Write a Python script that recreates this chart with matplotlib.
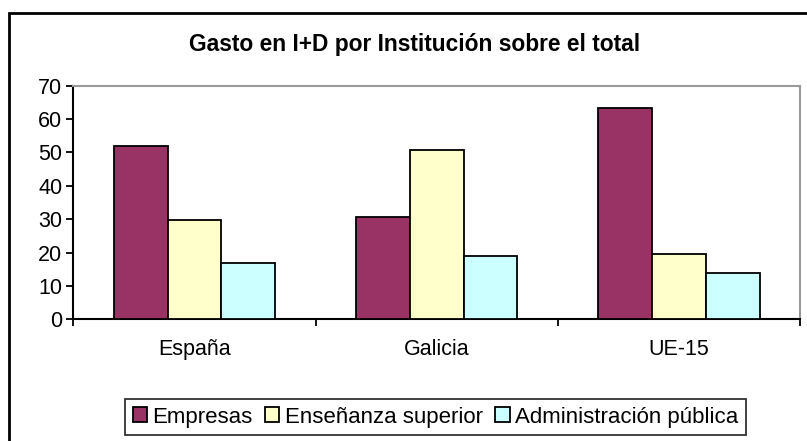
import matplotlib
matplotlib.use("Agg")
import matplotlib.pyplot as plt
import numpy as np
from matplotlib.patches import Rectangle

plt.rcParams['font.family'] = ['Liberation Sans', 'DejaVu Sans']

# data
regiones = ["España", "Galicia", "UE-15"]
empresas = [52.0, 30.7, 63.3]
ensenanza = [29.8, 50.8, 19.7]
administracion = [16.8, 19.1, 13.8]
series_names = ["Empresas", "Enseñanza superior", "Administración pública"]
colores = ["#993366", "#FFFFCC", "#CCFFFF"]

W, H = 807, 441
fig = plt.figure(figsize=(W / 100, H / 100), dpi=100)

# outer chart frame (runs off the image on right and bottom)
fig.patches.append(Rectangle((9 / W, -0.2), 1.2, 1 - 13 / H + 0.2,
                             transform=fig.transFigure, fill=False,
                             edgecolor="black", lw=2, zorder=0))

ax = fig.add_axes([73.3 / W, 1 - 319.3 / H, (800 - 73.3) / W, (319.3 - 85.7) / H])

x = np.arange(len(regiones))
w = 1 / 4.5
for i, vals in enumerate([empresas, ensenanza, administracion]):
    ax.bar(x + (i - 1) * w, vals, w, color=colores[i], edgecolor="black",
           lw=1.3, label=series_names[i], zorder=3)

ax.set_xlim(-0.5, 2.5)
ax.set_ylim(0, 70)
ax.set_yticks(range(0, 71, 10))
ax.set_xticks(x)
ax.set_xticklabels(regiones)
ax.set_xticks([-0.5, 0.5, 1.5, 2.5], minor=True)
ax.tick_params(axis="x", which="major", length=0, pad=14, labelsize=15.5)
ax.tick_params(axis="x", which="minor", length=5, width=1.3, direction="out")
ax.tick_params(axis="y", length=5, width=1.3, direction="out", pad=3, labelsize=15.5)

for s in ["left", "bottom"]:
    ax.spines[s].set_color("black")
    ax.spines[s].set_linewidth(1.5)
for s in ["top", "right"]:
    ax.spines[s].set_color("#999999")
    ax.spines[s].set_linewidth(1.5)

fig.text(415 / W, 1 - 44 / H, "Gasto en I+D por Institución sobre el total",
         ha="center", va="center", fontsize=16.4, fontweight="bold")

leg = fig.legend(loc="center", bbox_to_anchor=(435.5 / W, 1 - 417 / H),
                 ncol=3, fontsize=16, frameon=True, fancybox=False,
                 handlelength=0.65, handleheight=0.65, handletextpad=0.25,
                 columnspacing=0.55, borderpad=0.35, borderaxespad=0)
leg.get_frame().set_edgecolor("black")
leg.get_frame().set_linewidth(1.3)

fig.savefig("out.png", dpi=100)
